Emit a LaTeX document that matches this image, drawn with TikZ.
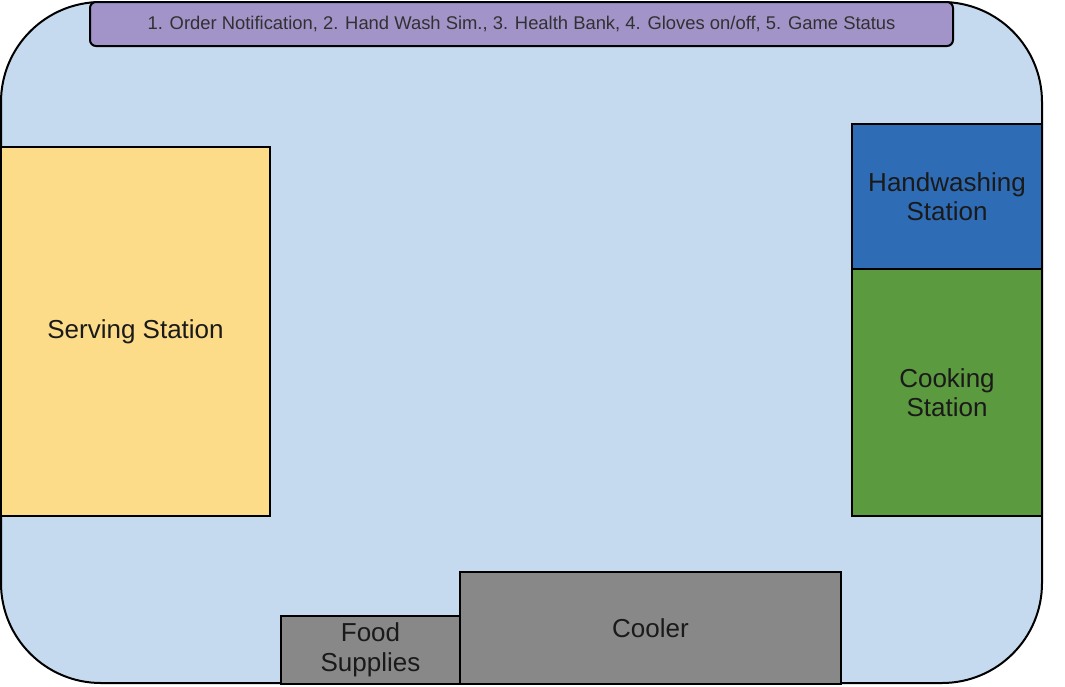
\documentclass[tikz,border=0pt]{standalone}
\usepackage{fontspec}
\setmainfont{Liberation Sans}
\definecolor{floorblue}{HTML}{C5DAEE}
\definecolor{barpurple}{HTML}{A294C9}
\definecolor{servyellow}{HTML}{FDDC89}
\definecolor{washblue}{HTML}{2F6CB6}
\definecolor{cookgreen}{HTML}{5B9A3E}
\definecolor{boxgray}{HTML}{888888}
\definecolor{txt}{HTML}{1A1A1A}
\begin{document}
\begin{tikzpicture}[x=1pt,y=-1pt,
  station/.style={draw=black,line width=2pt,rectangle,inner sep=0pt,text=txt,
    font=\fontsize{26}{29.5}\selectfont,align=center}]
\useasboundingbox (0,0) rectangle (1065,686);
\node[draw=black,line width=2pt,fill=floorblue,rounded corners=100pt,inner sep=0pt,
  minimum width=1041pt,minimum height=681pt] (floor) at (521.5,342.5) {};
\node[draw=black,line width=2pt,fill=barpurple,rounded corners=6pt,inner sep=0pt,
  minimum width=863pt,minimum height=44pt,text=txt!90,font=\fontsize{18.4}{22}\selectfont] (bar) at (521.5,24) {1. Order Notification, 2. Hand Wash Sim., 3. Health Bank, 4. Gloves on/off, 5. Game Status};
\node[station,fill=servyellow,minimum width=269pt,minimum height=369pt] (serve) at (135.5,331.5) {Serving Station};
\node[station,fill=washblue,minimum width=190pt,minimum height=145pt] (wash) at (947,196.5) {Handwashing\\Station};
\node[station,fill=cookgreen,minimum width=190pt,minimum height=247pt] (cook) at (947,392.5) {Cooking\\Station};
\node[station,fill=boxgray,minimum width=381pt,minimum height=112pt] (cooler) at (650.5,628) {Cooler};
\node[station,fill=boxgray,minimum width=179pt,minimum height=68pt] (food) at (370.5,650) {Food\\Supplies};
\end{tikzpicture}
\end{document}
